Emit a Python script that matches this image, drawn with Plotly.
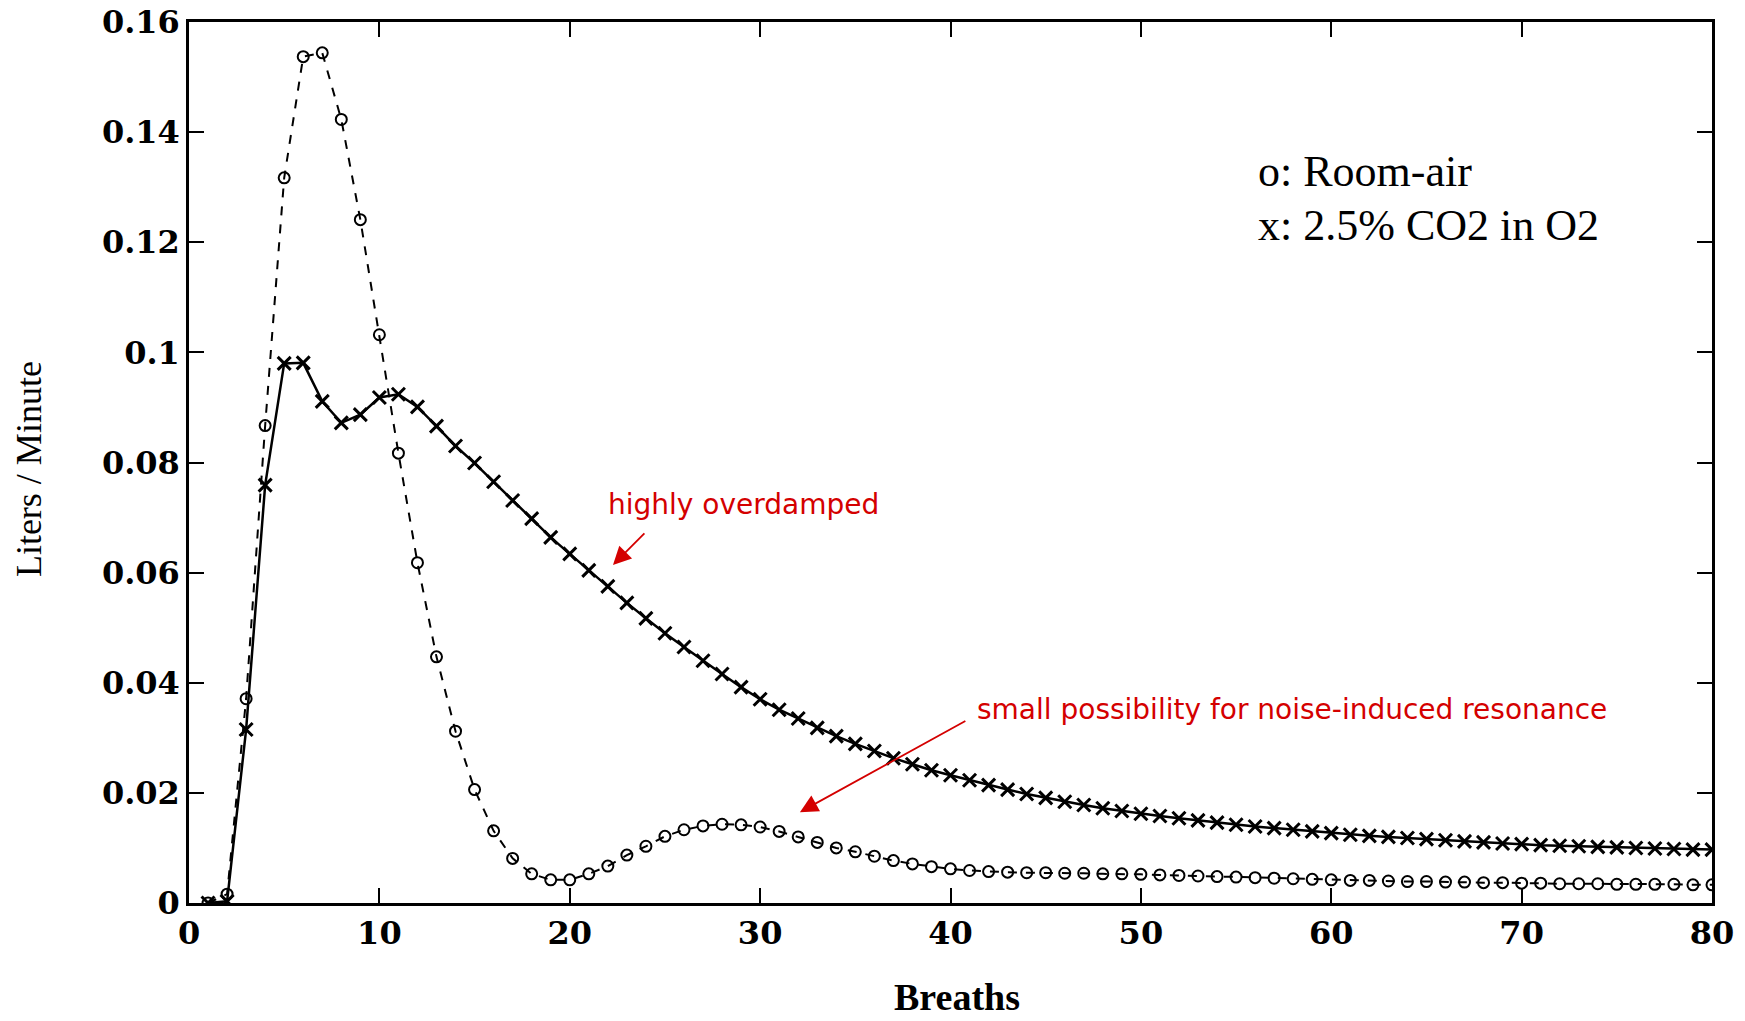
import plotly.graph_objects as go

# Breath index
breaths = list(range(1, 81))

# Ventilatory response, room air (o)
room_air = [
    0.0000, 0.0016, 0.0371, 0.0867, 0.1317, 0.1537, 0.1544, 0.1423, 0.1241, 0.1032,
    0.0817, 0.0618, 0.0447, 0.0312, 0.0206, 0.0131, 0.0081, 0.0053, 0.0042, 0.0042,
    0.0053, 0.0067, 0.0087, 0.0103, 0.0121, 0.0133, 0.0140, 0.0143, 0.0142, 0.0138,
    0.0130, 0.0120, 0.0110, 0.0100, 0.0093, 0.0085, 0.0077, 0.0071, 0.0066, 0.0062,
    0.0059, 0.0057, 0.0056, 0.0055, 0.0055, 0.0054, 0.0054, 0.0053, 0.0053, 0.0052,
    0.0051, 0.0050, 0.0049, 0.0048, 0.0047, 0.0046, 0.0045, 0.0044, 0.0043, 0.0042,
    0.0041, 0.0041, 0.0040, 0.0039, 0.0039, 0.0038, 0.0038, 0.0037, 0.0037, 0.0036,
    0.0036, 0.0035, 0.0035, 0.0035, 0.0034, 0.0034, 0.0034, 0.0034, 0.0033, 0.0033,
]

# Ventilatory response, 2.5% CO2 in O2 (x)
co2_in_o2 = [
    0.0000, 0.0003, 0.0315, 0.0759, 0.0980, 0.0981, 0.0911, 0.0872, 0.0887, 0.0918,
    0.0924, 0.0901, 0.0866, 0.0830, 0.0799, 0.0765, 0.0731, 0.0698, 0.0664, 0.0634,
    0.0604, 0.0575, 0.0545, 0.0517, 0.0490, 0.0465, 0.0440, 0.0416, 0.0392, 0.0370,
    0.0351, 0.0335, 0.0318, 0.0303, 0.0289, 0.0276, 0.0263, 0.0252, 0.0241, 0.0232,
    0.0223, 0.0214, 0.0206, 0.0198, 0.0191, 0.0184, 0.0178, 0.0172, 0.0167, 0.0162,
    0.0158, 0.0154, 0.0150, 0.0146, 0.0142, 0.0139, 0.0136, 0.0133, 0.0130, 0.0127,
    0.0124, 0.0122, 0.0120, 0.0118, 0.0116, 0.0114, 0.0112, 0.0110, 0.0108, 0.0107,
    0.0105, 0.0104, 0.0103, 0.0102, 0.0101, 0.0100, 0.0099, 0.0098, 0.0097, 0.0097,
]

x_ticks = [0, 10, 20, 30, 40, 50, 60, 70, 80]
y_ticks = [0, 0.02, 0.04, 0.06, 0.08, 0.1, 0.12, 0.14, 0.16]
y_tick_text = ["0", "0.02", "0.04", "0.06", "0.08", "0.1", "0.12", "0.14", "0.16"]

TICK_FONT = dict(family="DejaVu Serif", size=32, color="black", weight="bold")
RED = "#d40000"

fig = go.Figure()

fig.add_trace(go.Scatter(
    x=breaths, y=room_air, mode="lines+markers", name="Room-air",
    line=dict(color="black", width=2, dash="dash"),
    marker=dict(symbol="circle-open", size=11, color="black",
                line=dict(color="black", width=2)),
))

fig.add_trace(go.Scatter(
    x=breaths, y=co2_in_o2, mode="lines+markers", name="2.5% CO2 in O2",
    line=dict(color="black", width=2.5),
    marker=dict(symbol="x-thin", size=13, color="black",
                line=dict(color="black", width=3)),
))

axis_common = dict(
    showline=True, linecolor="black", linewidth=2.5, mirror="ticks",
    ticks="inside", ticklen=15, tickwidth=2, tickcolor="black",
    showgrid=False, zeroline=False, tickfont=TICK_FONT, automargin=False,
    ticklabelstandoff=0,
)

fig.update_xaxes(range=[0, 80], tickvals=x_ticks, **axis_common)
fig.update_yaxes(range=[0, 0.16], tickvals=y_ticks, ticktext=y_tick_text, **axis_common)

annotations = [
    # axis titles
    dict(text="Liters / Minute", xref="paper", yref="paper", x=-0.105, y=0.4926,
         textangle=-90, showarrow=False, xanchor="center", yanchor="middle",
         font=dict(family="Liberation Serif", size=36, color="black")),
    dict(text="<b>Breaths</b>", xref="paper", yref="paper", x=0.5043, y=-0.107,
         showarrow=False, xanchor="center", yanchor="middle",
         font=dict(family="Liberation Serif", size=38, color="black")),
    # series key
    dict(text="o: Room-air", x=56.04, y=0.1329, xref="x", yref="y",
         showarrow=False, xanchor="left", yanchor="middle",
         font=dict(family="Liberation Serif", size=44, color="black")),
    dict(text="x: 2.5% CO2 in O2", x=56.04, y=0.1231, xref="x", yref="y",
         showarrow=False, xanchor="left", yanchor="middle",
         font=dict(family="Liberation Serif", size=44, color="black")),
    # red notes
    dict(text="highly overdamped", x=21.9, y=0.0723, xref="x", yref="y",
         showarrow=False, xanchor="left", yanchor="middle",
         font=dict(family="DejaVu Sans", size=28, color=RED)),
    dict(text="small possibility for noise-induced resonance", x=41.28, y=0.0352,
         xref="x", yref="y", showarrow=False, xanchor="left", yanchor="middle",
         font=dict(family="DejaVu Sans", size=28, color=RED)),
    # red arrows
    dict(x=22.27, y=0.0614, ax=24.0, ay=0.0674, xref="x", yref="y",
         axref="x", ayref="y", text="", showarrow=True, arrowhead=2,
         arrowsize=2.0, arrowwidth=1.8, arrowcolor=RED),
    dict(x=32.09, y=0.0165, ax=40.86, ay=0.0332, xref="x", yref="y",
         axref="x", ayref="y", text="", showarrow=True, arrowhead=2,
         arrowsize=2.0, arrowwidth=1.8, arrowcolor=RED),
]

fig.update_layout(
    width=1745, height=1021, autosize=False,
    margin=dict(l=189, r=33, t=22, b=118),
    paper_bgcolor="white", plot_bgcolor="white",
    showlegend=False,
    annotations=annotations,
)

fig.write_html("out.html")
